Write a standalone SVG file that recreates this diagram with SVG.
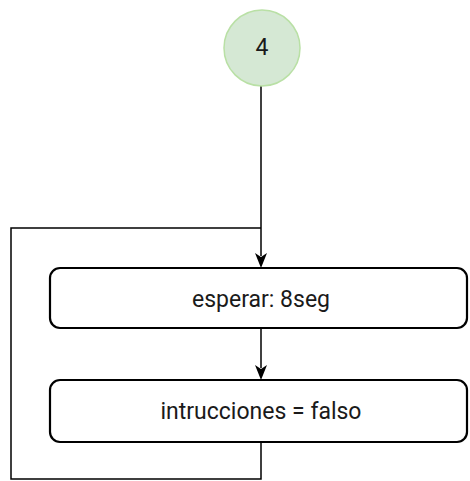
<svg xmlns="http://www.w3.org/2000/svg" width="470" height="481" viewBox="0 0 470 481">
<style>
.lbl{font-family:Roboto,"Liberation Sans",sans-serif;font-size:23px;fill:#1a1a1a;text-anchor:middle;dominant-baseline:central}
.box{fill:#fff;stroke:#000;stroke-width:2.2}
.edge{fill:none;stroke:#000;stroke-width:1.5}
.head{fill:#000}
</style>
<rect width="470" height="481" fill="#fff"/>
<g id="connectors">
<path class="edge" d="M261,86 V256"/>
<path class="head" d="M255,253 L261,257 L267,253 L261,268 Z"/>
<path class="edge" d="M261,329 V368"/>
<path class="head" d="M255,365 L261,369 L267,365 L261,380 Z"/>
<path class="edge" d="M261,442 V479 H11 V228 H261"/>
</g>
<g id="n4">
<circle cx="262" cy="48" r="38" fill="#d5e8d4" stroke="#b9e0a5" stroke-width="1.5"/>
<text class="lbl" x="262" y="47">4</text>
</g>
<g id="esperar">
<rect class="box" x="50" y="268" width="417" height="60" rx="10"/>
<text class="lbl" x="261" y="299">esperar: 8seg</text>
</g>
<g id="intrucciones">
<rect class="box" x="50" y="380" width="417" height="62" rx="10"/>
<text class="lbl" x="261" y="411">intrucciones = falso</text>
</g>
</svg>
